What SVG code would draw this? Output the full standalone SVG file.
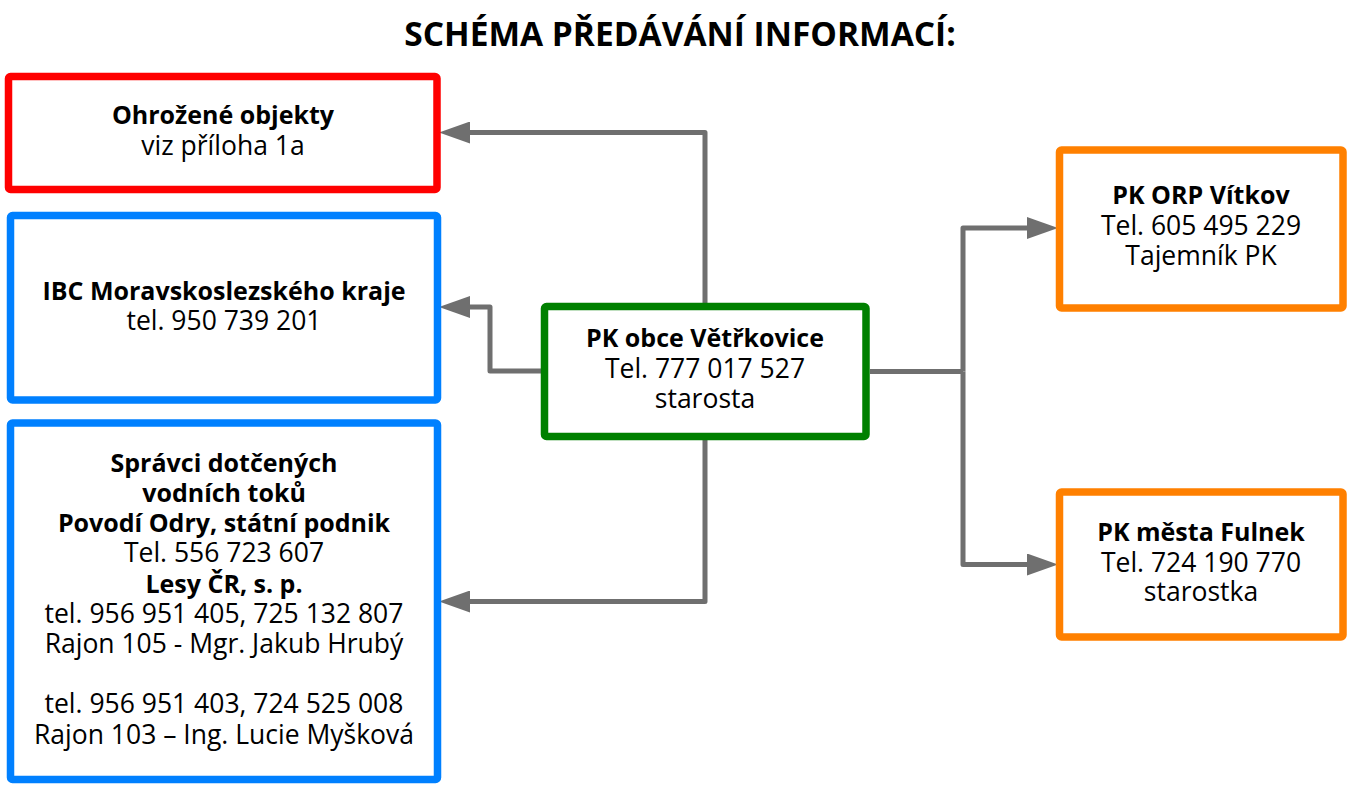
<svg xmlns="http://www.w3.org/2000/svg" width="1360" height="787" viewBox="0 0 1360 787">
<style>
.box{fill:#ffffff;stroke-width:7.5}
.red{stroke:#ff0000}
.blue{stroke:#0080ff}
.green{stroke:#008000}
.orange{stroke:#ff8000}
text{font-family:"Open Sans","DejaVu Sans",sans-serif;font-size:26.5px;fill:#000000;text-anchor:middle}
.b{font-weight:bold;font-size:25px}
.title{font-size:33.5px;font-weight:bold}
.con{fill:none;stroke:#6f6f6f;stroke-width:5;stroke-linejoin:round}
</style>
<defs>
<marker id="arr" markerUnits="userSpaceOnUse" markerWidth="32" markerHeight="22" refX="0" refY="11" orient="auto">
<path d="M0,0 L31,11 L0,22 z" fill="#6f6f6f"/>
</marker>
</defs>
<rect width="1360" height="787" fill="#ffffff"/>
<text class="title" x="680" y="46">SCHÉMA PŘEDÁVÁNÍ INFORMACÍ:</text>
<g id="connectors">
<path class="con" d="M705,303 V132.5 H470" marker-end="url(#arr)"/>
<path class="con" d="M541,371 H490 V307 H470" marker-end="url(#arr)"/>
<path class="con" d="M705,440 V601.5 H470" marker-end="url(#arr)"/>
<path class="con" d="M870,371.5 H963"/>
<path class="con" d="M963,371.5 V228 H1027" marker-end="url(#arr)"/>
<path class="con" d="M963,371.5 V564.5 H1027" marker-end="url(#arr)"/>
</g>
<g id="ohrozene">
<rect class="box red" x="8.5" y="76.5" width="428.5" height="113" rx="2"/>
<text class="b" x="223" y="124">Ohrožené objekty</text>
<text x="223" y="154.5">viz příloha 1a</text>
</g>
<g id="ibc">
<rect class="box blue" x="10.5" y="215.5" width="427" height="184.5" rx="2"/>
<text class="b" x="224" y="299.5">IBC Moravskoslezského kraje</text>
<text x="224" y="329.5">tel. 950 739 201</text>
</g>
<g id="spravci">
<rect class="box blue" x="10.5" y="423" width="427" height="356.5" rx="2"/>
<text class="b" x="224" y="471.7">Správci dotčených</text>
<text class="b" x="224" y="501.9">vodních toků</text>
<text class="b" x="224" y="532.1">Povodí Odry, státní podnik</text>
<text x="224" y="562.3">Tel. 556 723 607</text>
<text class="b" x="224" y="592.5">Lesy ČR, s. p.</text>
<text x="224" y="622.7">tel. 956 951 405, 725 132 807</text>
<text x="224" y="652.9">Rajon 105 - Mgr. Jakub Hrubý</text>
<text x="224" y="713.3">tel. 956 951 403, 724 525 008</text>
<text x="224" y="743.5">Rajon 103 – Ing. Lucie Myšková</text>
</g>
<g id="vetrkovice">
<rect class="box green" x="544.5" y="306.5" width="321.5" height="130" rx="2"/>
<text class="b" x="705" y="347.3">PK obce Větřkovice</text>
<text x="705" y="378.3">Tel. 777 017 527</text>
<text x="705" y="408.3">starosta</text>
</g>
<g id="vitkov">
<rect class="box orange" x="1059.5" y="150" width="283.5" height="158" rx="2"/>
<text class="b" x="1201" y="204">PK ORP Vítkov</text>
<text x="1201" y="235">Tel. 605 495 229</text>
<text x="1201" y="265">Tajemník PK</text>
</g>
<g id="fulnek">
<rect class="box orange" x="1059.5" y="492" width="283.5" height="145" rx="2"/>
<text class="b" x="1201" y="541">PK města Fulnek</text>
<text x="1201" y="571.5">Tel. 724 190 770</text>
<text x="1201" y="600.7">starostka</text>
</g>
</svg>
